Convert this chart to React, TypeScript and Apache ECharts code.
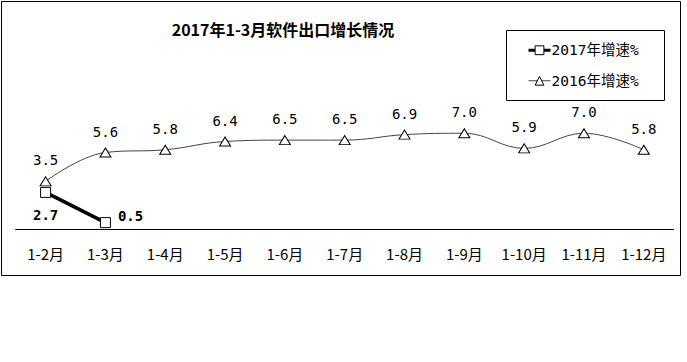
import React, { useEffect, useRef } from "react";
import * as echarts from "echarts";

const categories = ["1-2月", "1-3月", "1-4月", "1-5月", "1-6月", "1-7月", "1-8月", "1-9月", "1-10月", "1-11月", "1-12月"];
const growth2017 = [2.7, 0.5, null, null, null, null, null, null, null, null, null];
const growth2016 = [3.5, 5.6, 5.8, 6.4, 6.5, 6.5, 6.9, 7.0, 5.9, 7.0, 5.8];
const titleText = "2017年1-3月软件出口增长情况";
const name2017 = "2017年增速%";
const name2016 = "2016年增速%";

const monoFont = "'DejaVu Sans Mono', 'Liberation Mono', 'Noto Sans CJK SC', monospace";
const cjkFont = "'Noto Sans CJK SC', 'Noto Sans', sans-serif";

const fmt = (p: any) => (p.value == null ? "" : Number(p.value).toFixed(1));

export default function App() {
  const ref = useRef<HTMLDivElement>(null);
  useEffect(() => {
    document.body.style.margin = "0";
    if (!ref.current) return;
    const chart = echarts.init(ref.current, undefined, { renderer: "svg" });
    const data2017 = growth2017.map((v, i) => {
      if (i === 0) {
        return { value: v, label: { position: "bottom", distance: 10 } };
      }
      if (i === 1) {
        return { value: v, label: { position: "right", distance: 7, offset: [0, -7] } };
      }
      return v;
    });
    chart.setOption({
      animation: false,
      backgroundColor: "#ffffff",
      title: {
        text: titleText,
        left: 278,
        top: 16,
        textAlign: "center",
        textStyle: { fontFamily: cjkFont, fontSize: 16, fontWeight: "bold", color: "#000" },
      },
      graphic: [
        {
          type: "rect",
          shape: { x: 1.5, y: 1.5, width: 679, height: 274 },
          style: { fill: "none", stroke: "#000", lineWidth: 1 },
          silent: true,
          z: 0,
        },
        {
          type: "rect",
          shape: { x: 506.5, y: 30.5, width: 158, height: 70 },
          style: { fill: "none", stroke: "#000", lineWidth: 1 },
          silent: true,
          z: 0,
        },
      ],
      legend: {
        orient: "vertical",
        left: 527,
        top: 43,
        padding: 0,
        itemGap: 16,
        itemWidth: 22,
        itemHeight: 11,
        textStyle: { fontFamily: monoFont, fontSize: 14.5, lineHeight: 14, color: "#000", padding: [0, 0, 0, -4] },
        data: [
          { name: name2017, itemStyle: { color: "#fff", borderColor: "#000", borderWidth: 1 }, lineStyle: { color: "#000", width: 3 } },
          { name: name2016, itemStyle: { color: "#fff", borderColor: "#000", borderWidth: 1 }, lineStyle: { color: "#444", width: 1 } },
        ],
      },
      grid: { left: 15.7, right: 13.3, top: 119.5, bottom: 132.5 },
      xAxis: {
        type: "category",
        data: categories,
        boundaryGap: true,
        axisLine: { lineStyle: { color: "#000", width: 1 } },
        axisTick: { inside: true, length: 4, lineStyle: { color: "#000" } },
        axisLabel: { margin: 16, fontFamily: cjkFont, fontSize: 15, color: "#000", interval: 0 },
      },
      yAxis: {
        type: "value",
        min: 0,
        max: 8,
        show: false,
        splitLine: { show: false },
      },
      series: [
        {
          name: name2017,
          type: "line",
          data: data2017,
          symbol: "rect",
          symbolSize: 10,
          z: 3,
          lineStyle: { color: "#000", width: 3.5 },
          itemStyle: { color: "#fff", borderColor: "#000", borderWidth: 1 },
          label: {
            show: true,
            formatter: fmt,
            fontFamily: monoFont,
            fontSize: 14,
            fontWeight: "bold",
            color: "#000",
          },
        },
        {
          name: name2016,
          type: "line",
          data: growth2016,
          smooth: 0.4,
          symbol: "triangle",
          symbolSize: [11, 9],
          z: 2,
          lineStyle: { color: "#444", width: 1 },
          itemStyle: { color: "#fff", borderColor: "#000", borderWidth: 1 },
          label: {
            show: true,
            formatter: fmt,
            position: "top",
            distance: 9,
            fontFamily: monoFont,
            fontSize: 14,
            color: "#000",
          },
        },
      ],
    });
    return () => chart.dispose();
  }, []);
  return <div ref={ref} style={{ width: 687, height: 362 }} />;
}
